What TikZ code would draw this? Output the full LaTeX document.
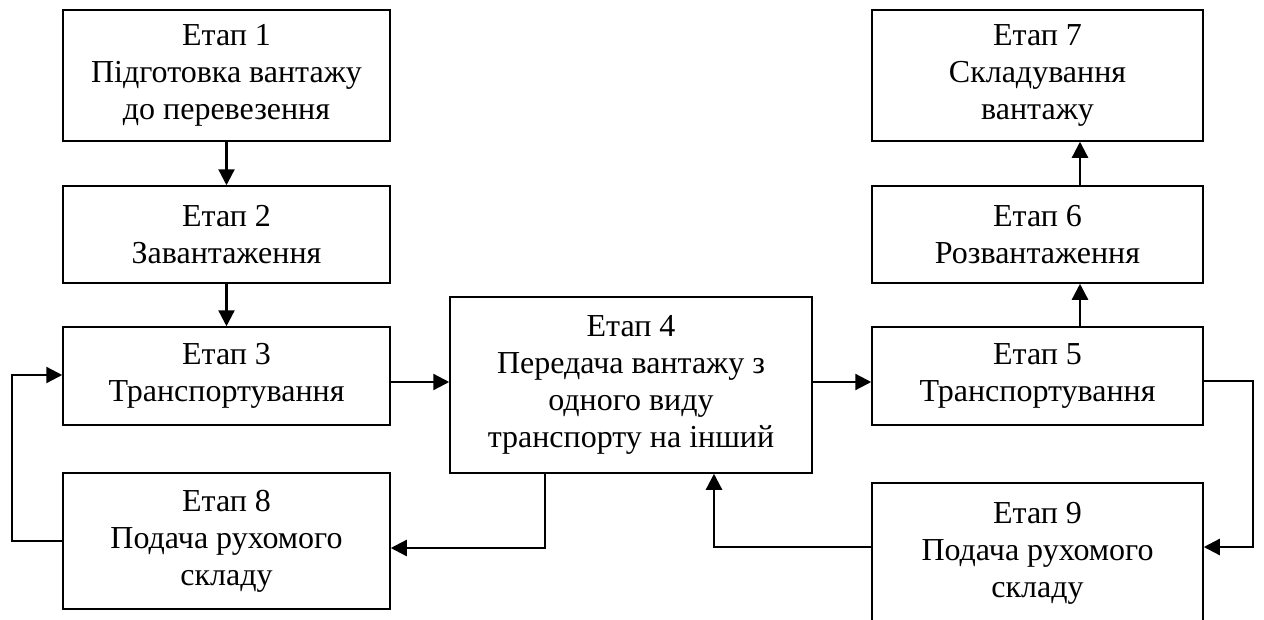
\documentclass[tikz,border=0pt]{standalone}
\usepackage{fontspec}
\setmainfont{Liberation Serif}
\usetikzlibrary{arrows.meta,calc}
\begin{document}
\begin{tikzpicture}[x=1pt,y=-1pt,
  stage/.style={draw=black,line width=1.5pt,align=center,inner sep=0pt,
    font=\fontsize{32}{37}\selectfont},
  flow/.style={line width=2.3pt,-{Triangle[length=16pt,width=16pt]}}]
\useasboundingbox (0,0) rectangle (1264,619);
\clip (0,0) rectangle (1264,619);
\fill[white] (0,0) rectangle (1264,619);

% left column
\node[stage,minimum width=327pt,minimum height=131pt] (s1) at (226.5,75.5)
  {Етап 1\\Підготовка вантажу\\до перевезення};
\node[stage,minimum width=327pt,minimum height=97pt] (s2) at (226.5,234.5)
  {Етап 2\\Завантаження};
\node[stage,minimum width=327pt,minimum height=98pt] (s3) at (226.5,376)
  {Етап 3\\Транспортування};
\node[stage,minimum width=327pt,minimum height=136pt] (s8) at (226.5,541)
  {Етап 8\\Подача рухомого\\складу};

% middle
\node[stage,minimum width=362pt,minimum height=176pt] (s4) at (631,385)
  {Етап 4\\Передача вантажу з\\одного виду\\транспорту на інший};

% right column
\node[stage,minimum width=331pt,minimum height=131pt] (s7) at (1037.5,75.5)
  {Етап 7\\Складування\\вантажу};
\node[stage,minimum width=331pt,minimum height=97pt] (s6) at (1037.5,234.5)
  {Етап 6\\Розвантаження};
\node[stage,minimum width=331pt,minimum height=98pt] (s5) at (1037.5,376)
  {Етап 5\\Транспортування};
\node[stage,minimum width=331pt,minimum height=140pt] (s9) at (1037.5,553)
  {Етап 9\\Подача рухомого\\складу};

% turning points of the loops
\coordinate (lA) at (12,541);
\coordinate (lB) at (12,375);
\coordinate (rA) at (1253,381);
\coordinate (rB) at (1253,547);
\coordinate (m4) at (545,548);
\coordinate (m9) at (714,547);

% vertical flow
\draw[flow] (s1.south) -- (s2.north);
\draw[flow] (s2.south) -- (s3.north);
\draw[flow] (s5.north -| 1080,0) -- (s6.south -| 1080,0);
\draw[flow] (s6.north -| 1080,0) -- (s7.south -| 1080,0);

% horizontal flow
\draw[flow] (s3.east |- 0,382) -- (s4.west |- 0,382);
\draw[flow] (s4.east |- 0,382) -- (s5.west |- 0,382);

% return loops
\draw[flow] (s5.east |- rA) -- (rA) -- (rB) -- (s9.east |- rB);
\draw[flow] (s9.west |- m9) -- (m9) -- (s4.south -| m9);
\draw[flow] (s4.south -| m4) -- (m4) -- (s8.east |- m4);
\draw[flow] (s8.west |- lA) -- (lA) -- (lB) -- (s3.west |- lB);
\end{tikzpicture}
\end{document}
